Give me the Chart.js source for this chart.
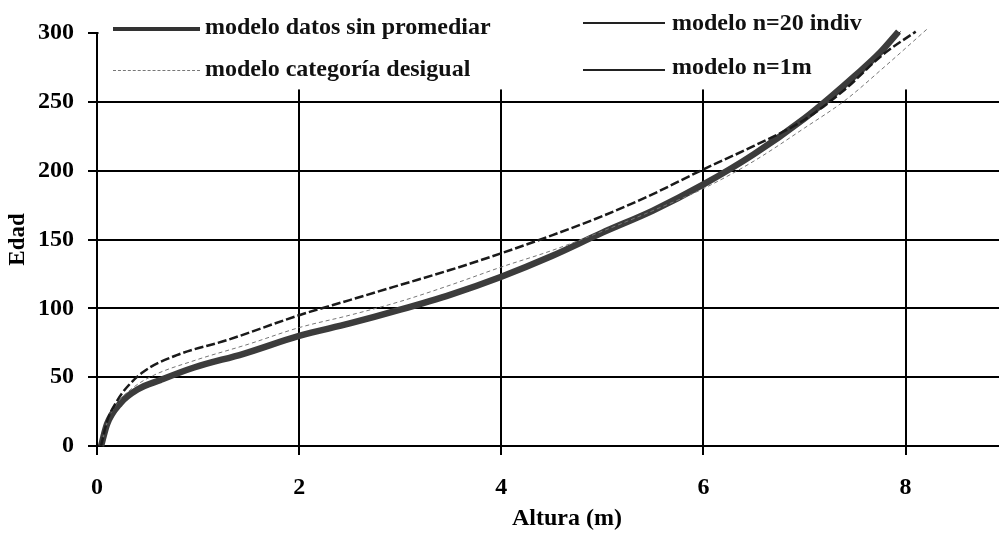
<!DOCTYPE html>
<html>
<head>
<meta charset="utf-8">
<script src="https://cdn.jsdelivr.net/npm/chart.js@4/dist/chart.umd.min.js"></script>
<style>
  html, body { margin: 0; padding: 0; background: #fff; overflow: hidden; }
  #wrap { position: relative; width: 999px; height: 539px; overflow: hidden; }
  #edad { position: absolute; left: 0; top: 0; }
  .leg { position: absolute; font-family: 'Liberation Serif', 'Times New Roman', serif; font-weight: bold; font-size: 24px; line-height: 24px; color: #111; white-space: nowrap; }
  .sample { position: absolute; }
</style>
</head>
<body>
<div id="wrap">
  <canvas id="edad" width="1037" height="539"></canvas>

  <div class="sample" style="left:113px; top:27px; width:87px; height:0; border-top:4px solid #333;"></div>
  <div class="leg" style="left:205px; top:14px;">modelo datos sin promediar</div>

  <div class="sample" style="left:113px; top:70px; width:87px; height:0; border-top:1px dashed #777;"></div>
  <div class="leg" style="left:205px; top:56px;">modelo categoría desigual</div>

  <div class="sample" style="left:583px; top:22px; width:82px; height:0; border-top:2px solid #222;"></div>
  <div class="leg" style="left:672px; top:10px;">modelo n=20 indiv</div>

  <div class="sample" style="left:583px; top:69px; width:82px; height:0; border-top:2px solid #222;"></div>
  <div class="leg" style="left:672px; top:54px;">modelo n=1m</div>
</div>

<script>
// Altura (m) vs Edad for each model
const datosX = [0.04, 0.10, 0.23, 0.40, 0.63, 0.96, 1.45, 2.0, 2.5, 3.0, 3.5, 4.0, 4.5, 5.0, 5.5, 6.0, 6.5, 7.0, 7.25, 7.5, 7.75, 7.93];
const datosY = [0, 16, 31, 41, 48, 57, 67, 80, 89, 99, 110, 123, 138, 155, 171, 190, 212, 238, 253, 269, 286, 301];

const indivX = [0.04, 0.10, 0.20, 0.30, 0.46, 0.79, 1.29, 2.0, 2.5, 3.0, 3.5, 4.0, 4.5, 5.0, 5.5, 6.0, 6.5, 7.0, 7.4, 7.77, 8.1];
const indivY = [0, 18, 33, 43, 54, 66, 77, 95, 106, 117, 128, 140, 153, 167, 183, 201, 218, 237, 259, 284, 301];

const categoriaX = [0.04, 0.10, 0.20, 0.35, 0.55, 0.96, 1.5, 2.0, 2.5, 3.0, 3.5, 4.0, 4.5, 5.0, 5.5, 6.0, 6.5, 7.0, 7.4, 7.8, 8.23];
const categoriaY = [0, 17, 31, 42, 51, 62, 74, 86, 95, 105, 117, 130, 142, 156, 171, 187, 207, 231, 251, 276, 304];

const unoMX = [0.04, 0.10, 0.23, 0.40, 0.63, 0.96, 1.45, 2.0, 2.5, 3.0, 3.5, 4.0, 4.5, 5.0, 5.5, 6.0, 6.5, 7.0, 7.25, 7.5, 7.75, 7.95];
const unoMY = [0, 16, 31, 41, 49, 58, 68, 81, 90, 100, 111, 124, 139, 156, 172, 191, 213, 239, 254, 270, 287, 301];

const xTicks = [0, 2, 4, 6, 8];
const yTicks = [0, 50, 100, 150, 200, 250, 300];

const pts = (xs, ys) => xs.map((x, i) => ({ x: x, y: ys[i] }));
const serif = "'Liberation Serif', 'Times New Roman', serif";

// white band over the top of the grid, where the legend sits
const legendBand = {
  id: 'legendBand',
  beforeDatasetsDraw(chart) {
    const { ctx, chartArea, scales } = chart;
    const yb = scales.y.getPixelForValue(259);
    ctx.save();
    ctx.fillStyle = '#fff';
    ctx.fillRect(chartArea.left + 1.5, chartArea.top - 3, chartArea.right - chartArea.left, yb - chartArea.top + 3);
    ctx.restore();
  }
};

const ctx = document.getElementById('edad');

new Chart(ctx, {
  type: 'scatter',
  data: {
    datasets: [
      {
        label: 'modelo n=20 indiv',
        data: pts(indivX, indivY),
        showLine: true,
        borderColor: '#1a1a1a',
        borderWidth: 2.5,
        borderDash: [9, 3],
        order: 1
      },
      {
        label: 'modelo categoría desigual',
        data: pts(categoriaX, categoriaY),
        showLine: true,
        borderColor: '#777',
        borderWidth: 1,
        borderDash: [4, 3],
        order: 2
      },
      {
        label: 'modelo datos sin promediar',
        data: pts(datosX, datosY),
        showLine: true,
        borderColor: '#3c3c3c',
        borderWidth: 6.5,
        order: 3
      },
      {
        label: 'modelo n=1m',
        data: pts(unoMX, unoMY),
        showLine: true,
        borderColor: '#000',
        borderWidth: 1,
        order: 4
      }
    ]
  },
  options: {
    responsive: false,
    animation: false,
    clip: 10,
    layout: { padding: { top: 33, right: 0, bottom: 0, left: 0 } },
    elements: {
      point: { radius: 0, hoverRadius: 0 },
      line: { cubicInterpolationMode: 'monotone', fill: false }
    },
    plugins: {
      legend: { display: false },
      tooltip: { enabled: false }
    },
    scales: {
      x: {
        type: 'linear',
        min: 0,
        max: 9.3,
        afterFit: (scale) => { scale.height = 93; },
        afterBuildTicks: (scale) => { scale.ticks = xTicks.map(v => ({ value: v })); },
        border: { color: '#000', width: 2 },
        grid: { color: '#000', lineWidth: 2, tickLength: 9, drawTicks: true },
        ticks: { color: '#000', padding: 18, font: { family: serif, weight: 'bold', size: 24 } },
        title: {
          display: true,
          text: 'Altura (m)',
          color: '#000',
          padding: { top: 0, bottom: 6 },
          font: { family: serif, weight: 'bold', size: 24 }
        }
      },
      y: {
        type: 'linear',
        min: 0,
        max: 300,
        afterFit: (scale) => { scale.width = 97; },
        afterBuildTicks: (scale) => { scale.ticks = yTicks.map(v => ({ value: v })); },
        border: { color: '#000', width: 2 },
        grid: { color: '#000', lineWidth: 2, tickLength: 9 },
        ticks: { color: '#000', padding: 14, font: { family: serif, weight: 'bold', size: 24 } },
        title: {
          display: true,
          text: 'Edad',
          color: '#000',
          padding: { top: 4, bottom: 0 },
          font: { family: serif, weight: 'bold', size: 23 }
        }
      }
    }
  },
  plugins: [legendBand]
});
</script>
</body>
</html>
